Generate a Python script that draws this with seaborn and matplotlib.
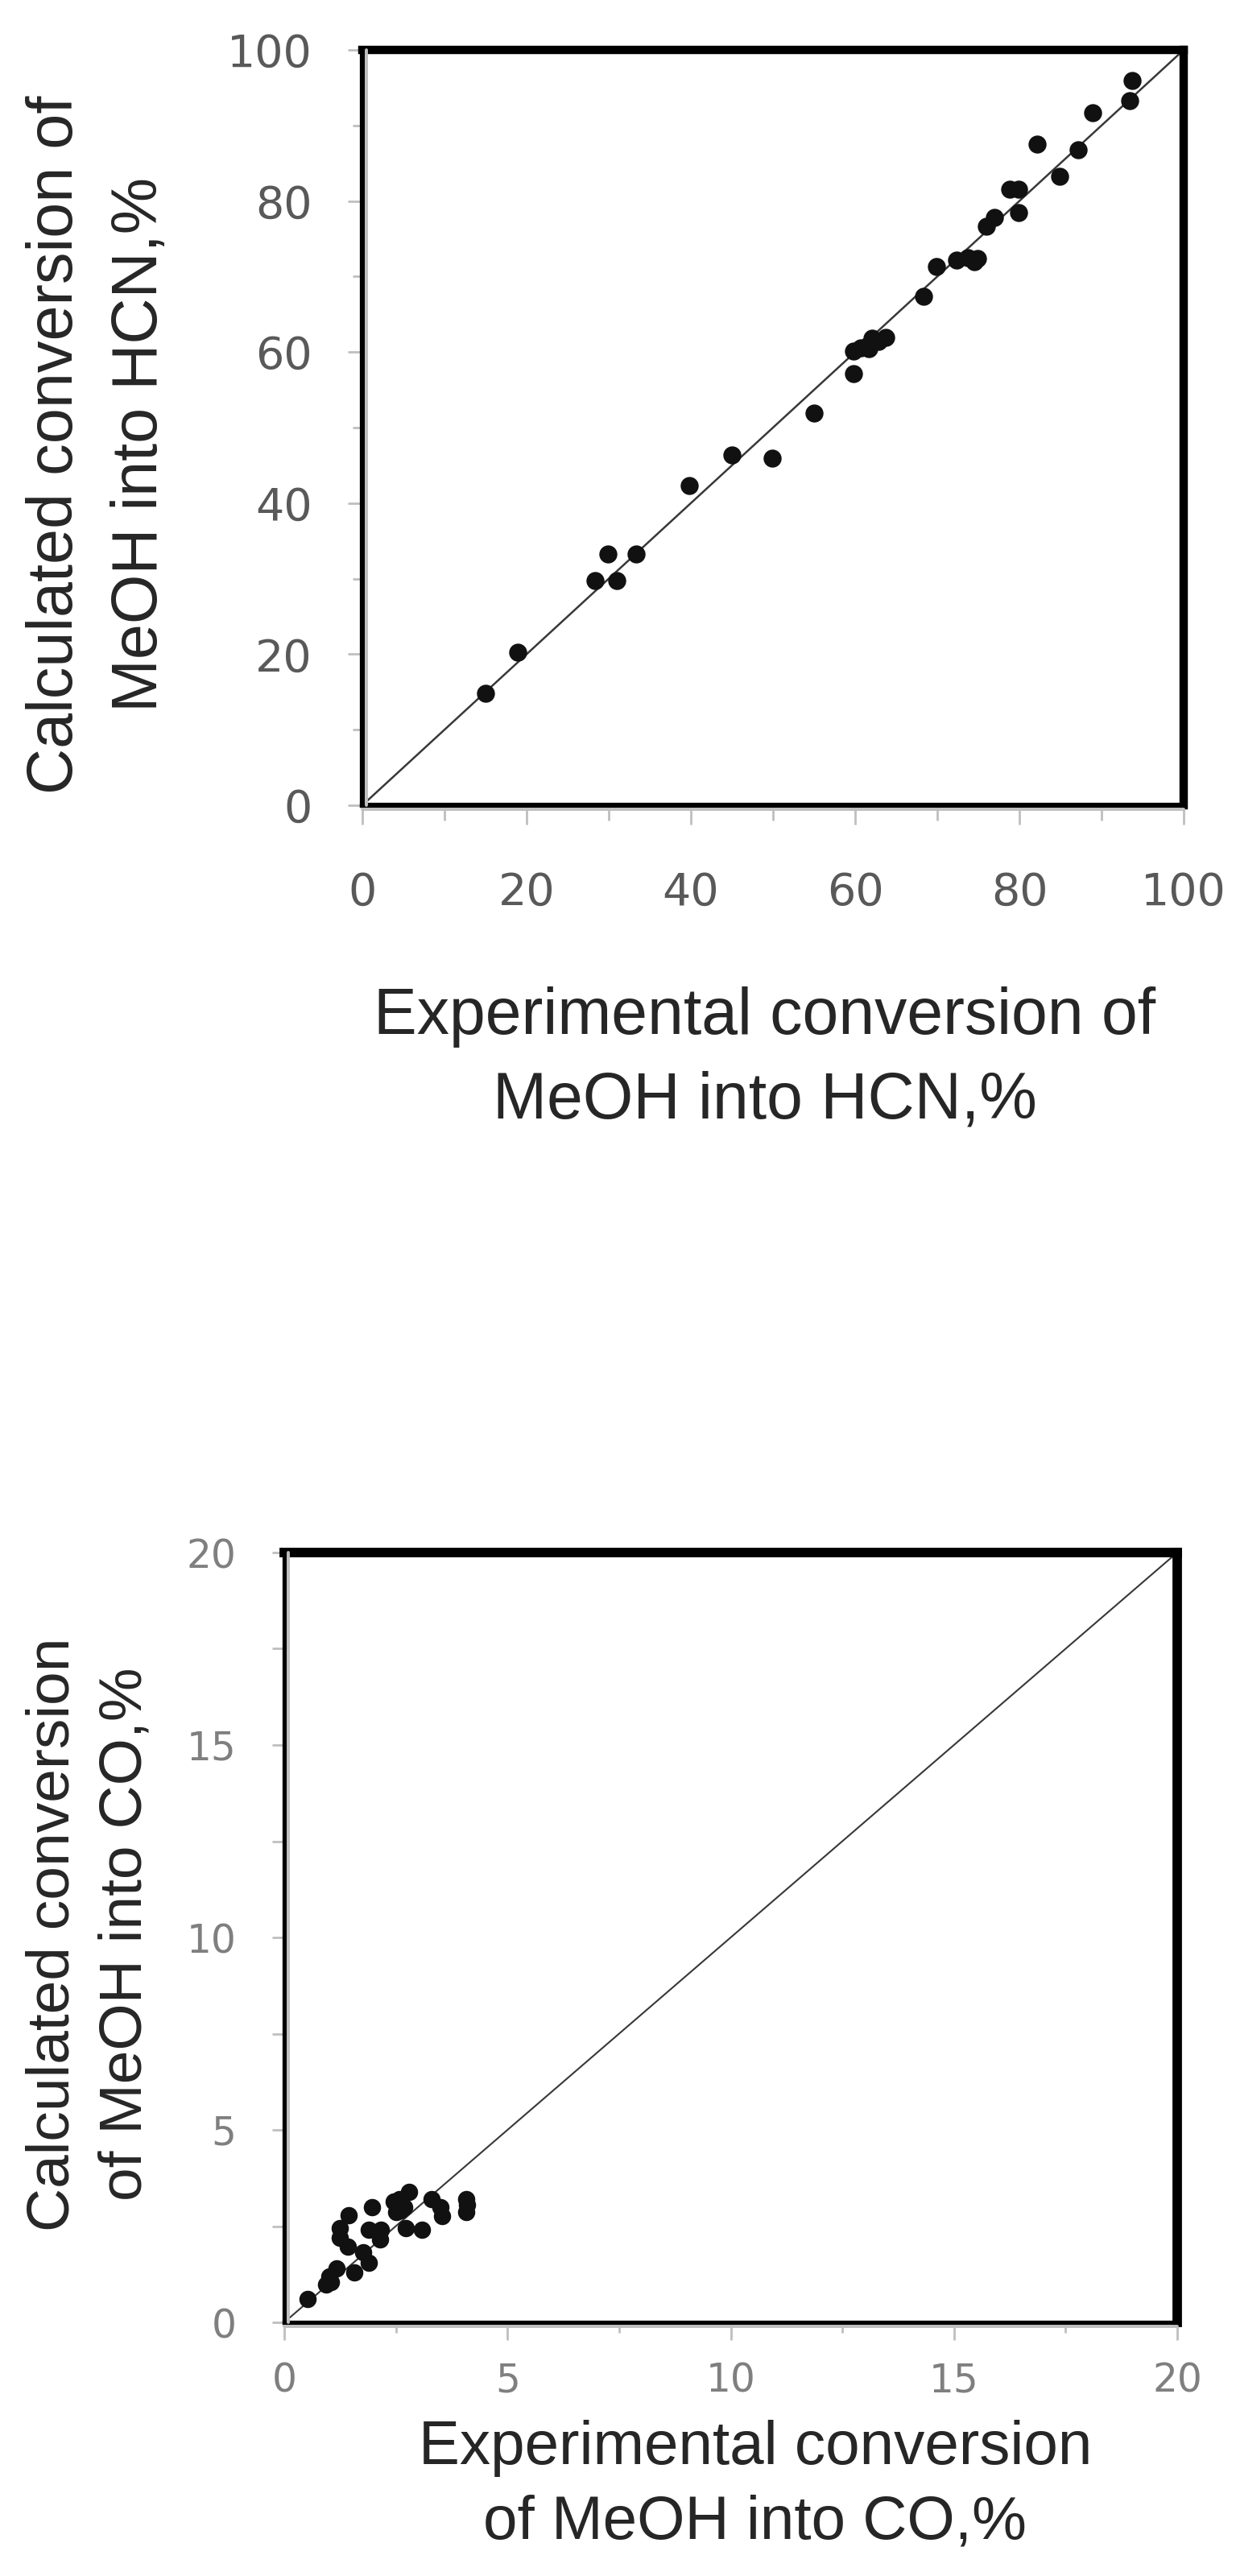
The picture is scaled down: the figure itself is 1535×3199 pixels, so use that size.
import matplotlib
matplotlib.use("Agg")
import matplotlib.pyplot as plt
from matplotlib.ticker import MultipleLocator
from matplotlib.transforms import ScaledTranslation
import seaborn as sns

# HCN: experimental vs calculated conversion, %
hcn_exp = [15.0, 18.9, 28.3, 29.9, 31.0, 33.3, 39.8, 45.0, 49.9, 55.0,
           59.8, 59.8, 60.7, 61.6, 61.7, 62.1, 62.8, 63.7, 68.3, 69.9,
           72.4, 73.7, 74.5, 74.9, 76.0, 77.0, 78.8, 79.9, 79.9, 82.2,
           84.9, 87.2, 88.9, 93.4, 93.7]
hcn_calc = [14.8, 20.3, 29.7, 33.3, 29.7, 33.3, 42.3, 46.4, 45.9, 51.9,
            57.1, 60.1, 60.6, 60.9, 60.4, 61.8, 61.4, 61.9, 67.4, 71.3,
            72.2, 72.5, 72.0, 72.4, 76.6, 77.8, 81.6, 81.6, 78.5, 87.5,
            83.3, 86.8, 91.7, 93.3, 95.9]

# CO: experimental vs calculated conversion, %
co_exp = [0.52, 0.94, 1.01, 1.05, 1.18, 1.56, 1.90, 1.76, 1.42, 1.25,
          1.25, 1.45, 1.90, 2.14, 2.17, 1.97, 2.45, 2.51, 2.60, 2.72,
          3.09, 2.79, 2.68, 2.58, 3.30, 3.50, 3.54, 4.08, 4.08, 4.10]
co_calc = [0.61, 0.98, 1.19, 1.05, 1.40, 1.29, 1.54, 1.82, 1.96, 2.20,
           2.44, 2.79, 2.41, 2.16, 2.41, 3.00, 3.14, 2.86, 2.90, 2.44,
           2.41, 3.39, 3.00, 3.21, 3.21, 3.00, 2.76, 3.21, 2.86, 3.05]

hcn_diag = [0, 100]
co_diag = [0, 20]

hcn_xlabel = "Experimental conversion of\nMeOH into HCN,%"
hcn_ylabel = "Calculated conversion of\nMeOH into HCN,%"
co_xlabel = "Experimental conversion\nof MeOH into CO,%"
co_ylabel = "Calculated conversion\nof MeOH into CO,%"

sns.set_style("white")
label_font = ["Liberation Sans", "DejaVu Sans"]

W, H = 1535, 3199
fig = plt.figure(figsize=(W / 100, H / 100), dpi=100)


def frame(ax, thick, thin):
    for side in ["top", "right"]:
        ax.spines[side].set_linewidth(thick)
        ax.spines[side].set_color("black")
    for side in ["left", "bottom"]:
        ax.spines[side].set_linewidth(thin)
        ax.spines[side].set_color("black")
    # grey axis lines next to the black border
    tl = ax.transAxes + ScaledTranslation(5 / 100, 0, fig.dpi_scale_trans)
    ax.plot([0, 0], [0, 1], transform=tl, color="#bfbfbf", lw=2.8,
            clip_on=False, zorder=5)
    tb = ax.transAxes + ScaledTranslation(0, -5 / 100, fig.dpi_scale_trans)
    ax.plot([0, 1], [0, 0], transform=tb, color="#bfbfbf", lw=2.8,
            clip_on=False, zorder=5)


# ---- top: HCN ----
ax1 = fig.add_axes([450 / W, 1 - 1000 / H, 1020 / W, 938 / H])
sns.lineplot(x=hcn_diag, y=hcn_diag, ax=ax1, color="#383838", linewidth=1.8)
sns.scatterplot(x=hcn_exp, y=hcn_calc, ax=ax1, color="#111111", s=260,
                linewidth=0, zorder=3)
ax1.set_xlim(0, 100)
ax1.set_ylim(0, 100)
ax1.xaxis.set_major_locator(MultipleLocator(20))
ax1.xaxis.set_minor_locator(MultipleLocator(10))
ax1.yaxis.set_major_locator(MultipleLocator(20))
ax1.yaxis.set_minor_locator(MultipleLocator(10))
ax1.tick_params(axis="x", which="major", direction="out", length=17, width=2,
                color="#bfbfbf", labelsize=40, labelcolor="#595959", pad=42,
                bottom=True)
ax1.tick_params(axis="x", which="minor", direction="out", length=14, width=2,
                color="#bfbfbf", bottom=True)
ax1.tick_params(axis="y", which="major", direction="out", length=13, width=2,
                color="#bfbfbf", labelsize=40, labelcolor="#595959", pad=32,
                left=True)
ax1.tick_params(axis="y", which="minor", direction="out", length=9, width=2,
                color="#bfbfbf", left=True)
frame(ax1, 7.5, 4.5)
ax1.set_xlabel(hcn_xlabel, fontsize=58, family=label_font, va="center",
               linespacing=1.47)
ax1.xaxis.set_label_coords(0.490, -0.336)
ax1.set_ylabel(hcn_ylabel, fontsize=57, family=label_font, va="center",
               linespacing=1.53)
ax1.yaxis.set_label_coords(-0.3216, 0.4776)

# ---- bottom: CO ----
ax2 = fig.add_axes([353 / W, 1 - 2884 / H, 1109 / W, 956 / H])
sns.lineplot(x=co_diag, y=co_diag, ax=ax2, color="#383838", linewidth=1.5)
sns.scatterplot(x=co_exp, y=co_calc, ax=ax2, color="#111111", s=240,
                linewidth=0, zorder=3)
ax2.set_xlim(0, 20)
ax2.set_ylim(0, 20)
ax2.xaxis.set_major_locator(MultipleLocator(5))
ax2.xaxis.set_minor_locator(MultipleLocator(2.5))
ax2.yaxis.set_major_locator(MultipleLocator(5))
ax2.yaxis.set_minor_locator(MultipleLocator(2.5))
ax2.tick_params(axis="x", which="major", direction="out", length=16, width=2,
                color="#bfbfbf", labelsize=35, labelcolor="#7f7f7f", pad=19,
                bottom=True)
ax2.tick_params(axis="x", which="minor", direction="out", length=9, width=2,
                color="#bfbfbf", bottom=True)
ax2.tick_params(axis="y", which="both", direction="out", length=11, width=2,
                color="#bfbfbf", labelsize=35, labelcolor="#7f7f7f", pad=32,
                left=True)
frame(ax2, 8.5, 3.8)
ax2.set_xlabel(co_xlabel, fontsize=55, family=label_font, va="center",
               linespacing=1.4)
ax2.xaxis.set_label_coords(0.5275, -0.2123)
ax2.set_ylabel(co_ylabel, fontsize=54, family=label_font, va="center",
               linespacing=1.39)
ax2.yaxis.set_label_coords(-0.2182, 0.504)

fig.savefig("out.png", dpi=100)
